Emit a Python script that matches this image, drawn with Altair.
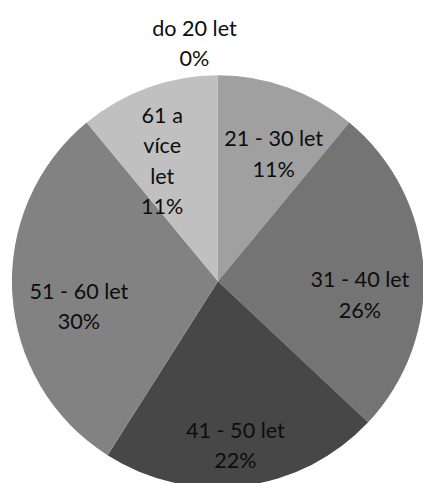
import altair as alt
import pandas as pd

categories = ["do 20 let", "21 - 30 let", "31 - 40 let", "41 - 50 let", "51 - 60 let", "61 a více let"]
label_lines = ["do 20 let", "21 - 30 let", "31 - 40 let", "41 - 50 let", "51 - 60 let", "61 a\nvíce\nlet"]
values = [0, 11, 26, 22, 30, 11]
colors = ["#d9d9d9", "#a0a0a0", "#747474", "#474747", "#828282", "#c0c0c0"]

df = pd.DataFrame({
    "cat": categories,
    "value": values,
    "order": list(range(len(categories))),
    "label": [f"{l}\n{v}%" for l, v in zip(label_lines, values)],
})

CX, CY = 214, 274
R = 210
LH = 31

# per-label offsets (style): radius, dx, dy of the block centre
label_style = {
    "do 20 let": (150, -24, -92),
    "21 - 30 let": (150, 6, 12),
    "31 - 40 let": (150, -5, 24),
    "41 - 50 let": (150, -1, 19),
    "51 - 60 let": (150, 8, 17),
    "61 a více let": (150, -6, 19),
}

base = alt.Chart(df).transform_window(
    cum="sum(value)", sort=[alt.SortField("order")], frame=[None, 0]
).transform_calculate(
    mid="datum.cum - datum.value / 2"
)

pie = alt.Chart(df).mark_arc(outerRadius=R, x=CX, y=CY, stroke=None).encode(
    theta=alt.Theta("value:Q", stack=True),
    order=alt.Order("order:Q"),
    color=alt.Color("cat:N", scale=alt.Scale(domain=categories, range=colors), legend=None),
)

layers = [pie]
for cat, lab in zip(categories, df["label"]):
    r, dx, dy = label_style[cat]
    n = lab.count("\n") + 1
    layers.append(
        base.transform_filter(alt.datum.cat == cat).mark_text(
            x=CX, y=CY, radius=r, dx=dx, dy=dy - (n - 1) * LH / 2,
            font="Lato", fontSize=22, lineHeight=LH, lineBreak="\n",
            align="center", baseline="middle", color="#0d0d0d",
        ).encode(
            theta=alt.Theta("mid:Q", stack=None, scale=alt.Scale(domain=[0, 100])),
            text="label:N",
        )
    )

chart = alt.layer(*layers).properties(
    width=423, height=475, padding=0, autosize=alt.AutoSizeParams(type="none")
).configure_view(stroke=None)

chart.save("out.html", embed_options={"renderer": "svg", "actions": False})
